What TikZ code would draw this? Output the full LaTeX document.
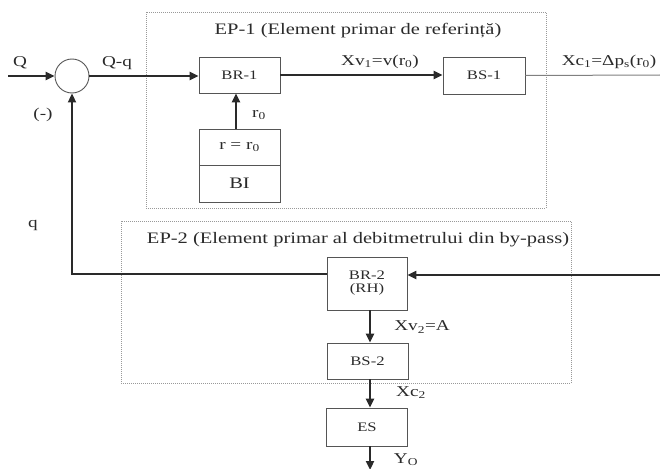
\documentclass[tikz,border=0pt]{standalone}
\usepackage{fontspec}
\setmainfont{Liberation Serif}[FakeStretch=1.28]
\usetikzlibrary{arrows.meta}
\definecolor{ink}{HTML}{2A2A2A}
\definecolor{boxc}{HTML}{555555}
\tikzset{
  blk/.style={draw=boxc, line width=0.9pt, rectangle, inner sep=0pt, font=\fontsize{13}{14}\selectfont, text=ink},
  frame/.style={draw=gray!80, line width=0.7pt, dash pattern=on 1pt off 1pt},
  sig/.style={draw=ink, line width=2.2pt, -{Triangle[length=9pt,width=8pt]}},
  lbl/.style={font=\fontsize{15}{16}\selectfont, text=ink, inner sep=0pt},
  ttl/.style={font=\fontsize{16}{17}\selectfont, text=ink, inner sep=0pt}
}
\begin{document}
\begin{tikzpicture}[x=1pt,y=-1pt]
\useasboundingbox (0,0) rectangle (660,468);
% frames
\draw[frame] (146,12) rectangle (546,208);
\draw[frame] (121,221) rectangle (571,383);
\node[ttl] (t1) at (358,31) {EP-1 (Element primar de referință)};
\node[ttl] (t2) at (358,240) {EP-2 (Element primar al debitmetrului din by-pass)};
% blocks
\node[circle, draw=boxc, line width=0.9pt, minimum size=34pt, inner sep=0pt] (sum) at (72,76) {};
\node[blk, minimum width=81pt, minimum height=36pt] (br1) at (239.5,75) {BR-1};
\node[blk, minimum width=81pt, minimum height=36pt, font=\fontsize{15}{16}\selectfont] (ri) at (239.5,147) {r = r\textsubscript{0}};
\node[blk, minimum width=81pt, minimum height=37pt, font=\fontsize{16}{17}\selectfont] (bi) at (239.5,183.5) {BI};
\node[blk, minimum width=82pt, minimum height=37pt] (bs1) at (484,75.5) {BS-1};
\node[blk, minimum width=80pt, minimum height=53pt, align=center] (br2) at (367,283.5) {BR-2\\[-1pt](RH)};
\node[blk, minimum width=81pt, minimum height=36pt] (bs2) at (367.5,361) {BS-2};
\node[blk, minimum width=81pt, minimum height=38pt] (es) at (367,427) {ES};
% free ends
\coordinate (qin) at (8,76);
\coordinate (c1out) at (660,75);
\coordinate (rin) at (660,275);
\coordinate (yout) at (370,470);
\coordinate (fb) at (72,274);
% connectors
\draw[sig] (qin) -- (sum.west);
\draw[sig] (sum.east) -- (sum.east -| br1.west);
\draw[sig] (ri.north -| 236,0) -- (br1.south -| 236,0);
\draw[sig] (br1.east) -- (bs1.west |- br1.east);
\draw[draw=gray, line width=1pt] (bs1.east) -- (c1out);
\draw[draw=ink, line width=2pt, -{Triangle[length=9pt,width=8pt]}] (br2.west |- fb) -- (fb) -- (sum.south);
\draw[sig] (rin) -- (br2.east |- rin);
\draw[sig] (br2.south -| 370,0) -- (bs2.north -| 370,0);
\draw[sig] (bs2.south -| 370,0) -- (es.north -| 370,0);
\draw[sig] (es.south -| 370,0) -- (yout);
% labels
\node[lbl] (lq) at (20,63) {Q};
\node[lbl] (lqq) at (117,63) {Q-q};
\node[lbl] (lm) at (43,115) {(-)};
\node[lbl] (lr0) at (259,115) {r\textsubscript{0}};
\node[lbl] (lxv1) at (380,62) {Xv\textsubscript{1}=v(r\textsubscript{0})};
\node[lbl] (lxc1) at (609,62) {Xc\textsubscript{1}=Δp\textsubscript{s}(r\textsubscript{0})};
\node[lbl] (lqs) at (33,225) {q};
\node[lbl] (lxv2) at (422,327) {Xv\textsubscript{2}=A};
\node[lbl] (lxc2) at (411,393) {Xc\textsubscript{2}};
\node[lbl] (lyo) at (406,460) {Y\textsubscript{O}};
\end{tikzpicture}
\end{document}
